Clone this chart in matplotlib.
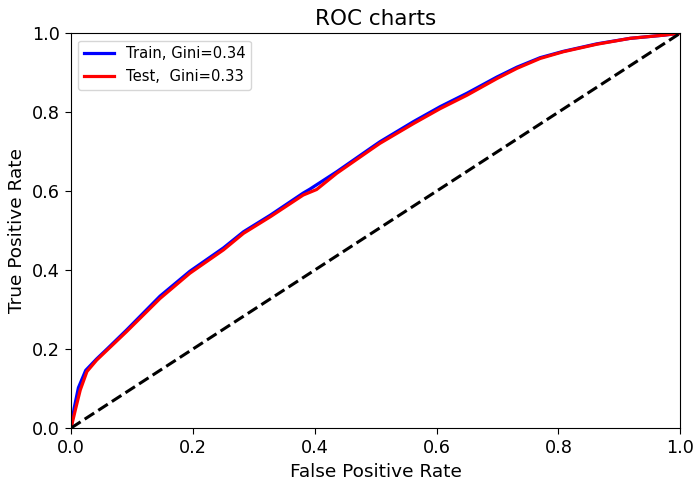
import matplotlib
matplotlib.use("Agg")
import matplotlib.pyplot as plt

# ROC points (false positive rate, true positive rate)
fpr_train = [0.0, 0.005, 0.012, 0.024, 0.042, 0.059, 0.091, 0.146, 0.195, 0.250, 0.283,
             0.327, 0.381, 0.392, 0.403, 0.436, 0.491, 0.507, 0.562, 0.606, 0.650,
             0.699, 0.732, 0.770, 0.808, 0.863, 0.918, 0.973, 1.0]
tpr_train = [0.0, 0.050, 0.102, 0.146, 0.175, 0.200, 0.248, 0.334, 0.397, 0.456, 0.497,
             0.539, 0.595, 0.605, 0.616, 0.649, 0.708, 0.725, 0.776, 0.814, 0.848,
             0.889, 0.914, 0.938, 0.954, 0.973, 0.987, 0.995, 1.0]

fpr_test = [0.0, 0.007, 0.015, 0.026, 0.042, 0.059, 0.091, 0.146, 0.195, 0.250, 0.283,
            0.327, 0.381, 0.403, 0.436, 0.491, 0.507, 0.562, 0.606, 0.650, 0.699,
            0.732, 0.770, 0.808, 0.863, 0.918, 0.973, 1.0]
tpr_test = [0.0, 0.046, 0.096, 0.143, 0.172, 0.197, 0.244, 0.328, 0.392, 0.451, 0.493,
            0.535, 0.590, 0.604, 0.645, 0.704, 0.721, 0.771, 0.809, 0.843, 0.885,
            0.911, 0.936, 0.953, 0.972, 0.987, 0.995, 1.0]

gini_train = 0.34
gini_test = 0.33

fig = plt.figure(figsize=(6.97, 4.88), dpi=100)
ax = fig.add_axes([0.102, 0.123, 0.874, 0.809])

ax.plot(fpr_train, tpr_train, color='blue', lw=2.3, label='Train, Gini=%.2f' % gini_train)
ax.plot(fpr_test, tpr_test, color='red', lw=2.3, label='Test,  Gini=%.2f' % gini_test)
ax.plot([0, 1], [0, 1], 'k--', lw=2.2)

ax.set_xlim(0, 1)
ax.set_ylim(0, 1)
ax.set_xticks([0, 0.2, 0.4, 0.6, 0.8, 1.0])
ax.set_yticks([0, 0.2, 0.4, 0.6, 0.8, 1.0])
ax.tick_params(labelsize=12.7, length=4.5)
ax.set_xlabel('False Positive Rate', fontsize=13.3)
ax.set_ylabel('True Positive Rate', fontsize=13.3)
ax.set_title('ROC charts', fontsize=15.5)
ax.legend(loc='upper left', fontsize=10.6)

fig.savefig('out.png', dpi=100)
